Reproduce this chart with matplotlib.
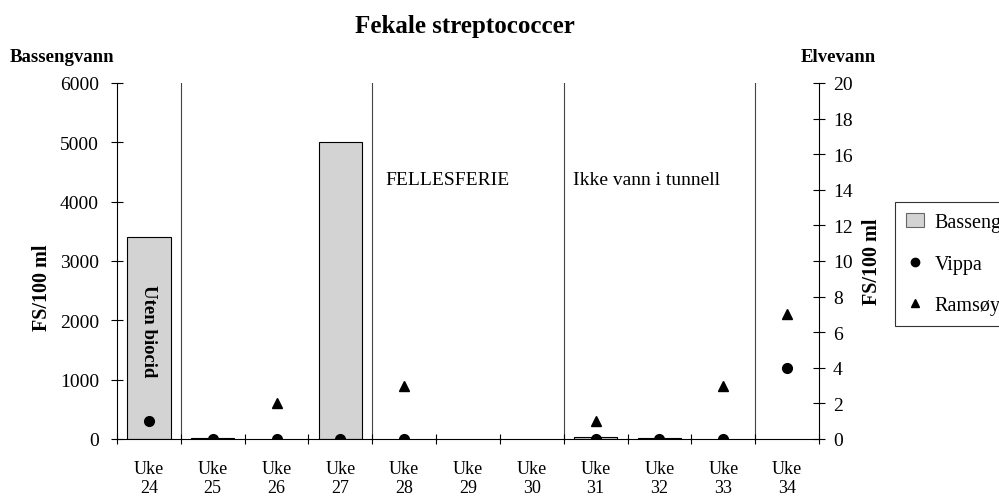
import numpy as np
import matplotlib.pyplot as plt
from matplotlib.lines import Line2D
from matplotlib.patches import Patch

plt.rcParams['font.family'] = ['Liberation Serif', 'DejaVu Serif']

# data
weeks = ["24", "25", "26", "27", "28", "29", "30", "31", "32", "33", "34"]
bassengvann = [3400, 20, np.nan, 5000, np.nan, np.nan, np.nan, 40, 10, np.nan, np.nan]
vippa = [1, 0, 0, 0, 0, np.nan, np.nan, 0, 0, 0, 4]
ramsoy = [np.nan, np.nan, 2, np.nan, 3, np.nan, np.nan, 1, 0, 3, 7]
separators = [0.5, 3.5, 6.5, 9.5]

x = np.arange(len(weeks))

fig = plt.figure(figsize=(9.99, 5.02), dpi=100)
W, H = 999, 502
ax = fig.add_axes([117 / W, 1 - 440 / H, (819 - 117) / W, (440 - 84) / H])
ax2 = ax.twinx()

ax.bar(x, bassengvann, width=0.68, color='#d3d3d3', edgecolor='black', linewidth=0.8, zorder=2)
for s in separators:
    ax.axvline(s, color='#444444', linewidth=0.8, zorder=1)

ax2.plot(x, vippa, 'o', color='black', markersize=7, linestyle='none', zorder=4)
ax2.plot(x, ramsoy, '^', color='black', markersize=7, linestyle='none', zorder=4)

ax.set_xlim(-0.5, len(weeks) - 0.5)
ax.set_ylim(0, 6000)
ax2.set_ylim(0, 20)
ax.set_yticks(range(0, 6001, 1000))
ax2.set_yticks(range(0, 21, 2))

# week labels at centres, tick marks at the category edges
ax.set_xticks(x)
ax.set_xticklabels(["Uke\n" + w for w in weeks], fontsize=13, linespacing=1.15)
ax.tick_params(axis='x', which='major', length=0, pad=15)
ax.set_xticks(np.arange(-0.5, len(weeks)), minor=True)
ax.tick_params(axis='x', which='minor', direction='inout', length=7, width=0.8)

ax.tick_params(axis='y', direction='inout', length=8, width=0.8, labelsize=14, pad=9)
ax2.tick_params(axis='y', direction='inout', length=8, width=0.8, labelsize=14, pad=6)

for a in (ax, ax2):
    a.spines['top'].set_visible(False)
    for sp in a.spines.values():
        sp.set_linewidth(0.8)
ax2.spines['bottom'].set_visible(False)
ax2.spines['left'].set_visible(False)
ax.spines['right'].set_visible(False)

ax.text(0, 1840, "Uten biocid", rotation=-90, ha='center', va='center',
        fontsize=13.5, fontweight='bold', zorder=3)
ax.text(3.7, 4380, "FELLESFERIE", ha='left', va='center', fontsize=14)
ax.text(6.65, 4380, "Ikke vann i tunnell", ha='left', va='center', fontsize=14)

fig.text(465 / W, 1 - 27 / H, "Fekale streptococcer", ha='center', va='center',
         fontsize=18, fontweight='bold')
fig.text(10 / W, 1 - 57 / H, "Bassengvann", ha='left', va='center',
         fontsize=13.5, fontweight='bold')
fig.text(838 / W, 1 - 57 / H, "Elvevann", ha='center', va='center',
         fontsize=13.5, fontweight='bold')
fig.text(42 / W, 1 - 288 / H, "FS/100 ml", rotation=90, ha='center', va='center',
         fontsize=14.5, fontweight='bold')
fig.text(872 / W, 1 - 262 / H, "FS/100 ml", rotation=90, ha='center', va='center',
         fontsize=14.5, fontweight='bold')

# the legend box runs past the right edge, as in the original
handles = [
    Patch(facecolor='#d3d3d3', edgecolor='#666666', linewidth=0.8),
    Line2D([], [], marker='o', color='black', linestyle='none', markersize=6),
    Line2D([], [], marker='^', color='black', linestyle='none', markersize=6),
]
leg = fig.legend(handles, ["Bassengvann", "Vippa", "Ramsøy"], loc='lower left',
                 bbox_to_anchor=(895 / W, 1 - 327 / H), fontsize=14.5, frameon=True,
                 fancybox=False, edgecolor='black', handlelength=0.9, handletextpad=0.5,
                 labelspacing=1.1, borderpad=0.55, borderaxespad=0)
leg.get_frame().set_linewidth(0.8)

fig.savefig("out.png", dpi=100)
